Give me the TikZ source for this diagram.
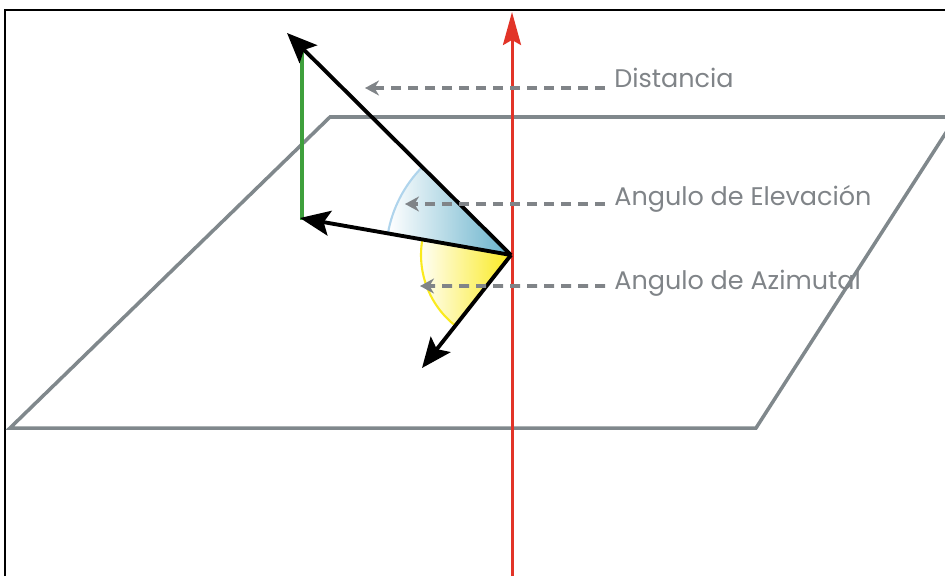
\documentclass[tikz,border=0pt]{standalone}
\usepackage{fontspec}
\setmainfont{Poppins}
\usepackage{xcolor}
\usetikzlibrary{arrows.meta, positioning, calc}

\definecolor{planegray}{RGB}{128,136,140}
\definecolor{axisred}{RGB}{226,52,40}
\definecolor{projgreen}{RGB}{62,160,60}
\definecolor{labelgray}{RGB}{128,132,136}
\definecolor{elevblue}{RGB}{100,176,202}
\definecolor{elevedge}{RGB}{175,212,236}
\definecolor{azimyellow}{RGB}{250,234,30}

\begin{document}
\begin{tikzpicture}[x=0.02cm, y=0.02cm,
  vec/.style={-{Stealth[length=0.6cm, width=0.5cm, inset=0.12cm]}, line width=2.2pt, black},
  axis/.style={-{Stealth[length=0.66cm, width=0.36cm, inset=0.1cm]}, line width=1.7pt, axisred},
  dasharrow/.style={-{Stealth[length=0.28cm, width=0.3cm]}, line width=2pt, labelgray, dash pattern=on 0.2cm off 0.14cm},
  lbl/.style={anchor=base west, inner sep=0, text=labelgray, font=\fontsize{14.5}{16}\selectfont}
]
\useasboundingbox (0,0) rectangle (945,576);

% frame
\draw[line width=0.9pt] (5,0) -- (5,566) -- (945,566);

% ground plane
\begin{scope}
  \clip (0,0) rectangle (945,576);
  \draw[planegray, line width=2pt, line join=miter] (10,148) -- (330,459) -- (956,459) -- (756,148) -- cycle;
\end{scope}

% points
\coordinate (O) at (511,321);
\coordinate (distTip) at (287,543);
\coordinate (projTip) at (300,358);
\coordinate (azimTip) at (422,208);
\coordinate (greenTop) at (302,528);
\coordinate (greenBot) at (302,356);
\coordinate (axisBot) at (512,0);
\coordinate (axisTop) at (512,564);

% angle wedges
\shade[left color=white, right color=elevblue] (O) -- ++(135.3:2.5cm) arc[start angle=135.3, end angle=170, radius=2.5cm] -- cycle;
\draw[elevedge, line width=1.2pt] ($(O)+(135.3:2.5cm)$) arc[start angle=135.3, end angle=170, radius=2.5cm];
\shade[left color=white, right color=azimyellow] (O) -- ++(170:1.8cm) arc[start angle=170, end angle=231.8, radius=1.8cm] -- cycle;
\draw[azimyellow, line width=1.2pt] ($(O)+(170:1.8cm)$) arc[start angle=170, end angle=231.8, radius=1.8cm];

% vertical axis
\draw[axis] (axisBot) -- (axisTop);

% height of the point
\draw[projgreen, line width=2.6pt] (greenBot) -- (greenTop);

% vectors
\draw[vec] (O) -- (distTip);
\draw[vec] (O) -- (projTip);
\draw[vec] (O) -- (azimTip);

% labels
\node[lbl] (dist) at (614,489) {Distancia};
\node[lbl] (elev) at (614,371) {Angulo de Elevación};
\node[lbl] (azim) at (614,287) {Angulo de Azimutal};

\coordinate (distEnd) at (365,488);
\coordinate (elevEnd) at (405,372);
\coordinate (azimEnd) at (420,290);
\draw[dasharrow] ([xshift=-0.18cm, yshift=-0.02cm]dist.base west) -- (distEnd);
\draw[dasharrow] ([xshift=-0.18cm, yshift=0.02cm]elev.base west) -- (elevEnd);
\draw[dasharrow] ([xshift=-0.18cm, yshift=0.06cm]azim.base west) -- (azimEnd);

\end{tikzpicture}
\end{document}
